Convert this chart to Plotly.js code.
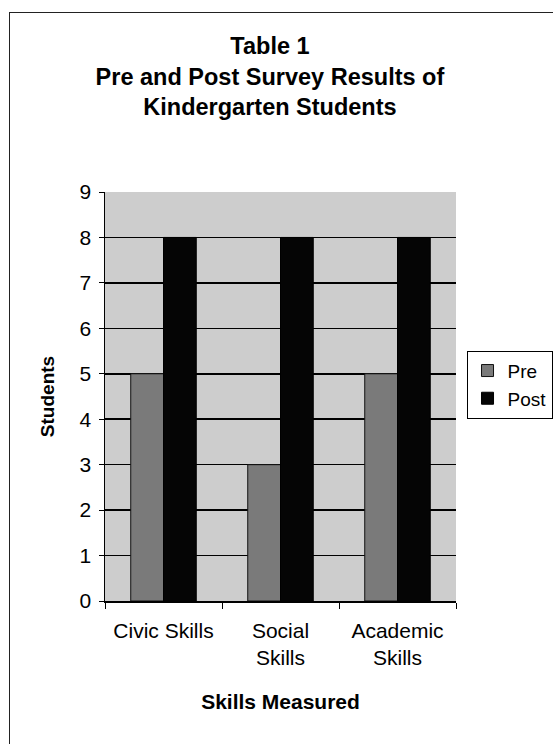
<!DOCTYPE html>
<html>
<head>
<meta charset="utf-8">
<script src="https://cdn.plot.ly/plotly-3.0.1.min.js"></script>
<style>
  html, body { margin: 0; padding: 0; background: #ffffff; }
  #chart { width: 553px; height: 744px; }
  #frame { position: absolute; left: 9px; top: 12px; width: 560px; height: 760px;
           border-left: 1.5px solid #222; border-top: 1.5px solid #222; pointer-events: none; }
</style>
</head>
<body>
<div id="chart"></div>
<div id="frame"></div>
<script>
const categories = ['Civic Skills', 'Social<br>Skills', 'Academic<br>Skills'];
const seriesNames = ['Pre', 'Post'];
const preValues = [5, 3, 5];
const postValues = [8, 8, 8];
const yTicks = [0, 1, 2, 3, 4, 5, 6, 7, 8, 9];

const font = 'Liberation Sans, Arial, sans-serif';

const traces = [
  {
    type: 'bar', name: seriesNames[0], x: categories, y: preValues,
    legendgroup: 'a',
    marker: { color: '#7a7a7a', line: { color: '#111', width: 1 } },
    hoverinfo: 'skip'
  },
  {
    type: 'bar', name: seriesNames[1], x: categories, y: postValues,
    legendgroup: 'b',
    marker: { color: '#050505', line: { color: '#000', width: 1 } },
    hoverinfo: 'skip'
  }
];

const layout = {
  width: 553, height: 744,
  autosize: false,
  margin: { l: 105, r: 97, t: 192, b: 143, autoexpand: false },
  paper_bgcolor: '#ffffff',
  plot_bgcolor: '#cdcdcd',
  font: { family: font, color: '#000' },
  title: {
    text: '<b>Table 1</b><br><b>Pre and Post Survey Results of</b><br><b>Kindergarten Students</b>',
    font: { family: font, size: 23.5, color: '#000' },
    x: 0.47, xanchor: 'center', xref: 'paper',
    y: 1 - 54 / 744, yanchor: 'top', yref: 'container'
  },
  barmode: 'group',
  bargap: 0.44,
  bargroupgap: 0,
  showlegend: true,
  legend: {
    x: 1.03, xanchor: 'left', y: 0.612, yanchor: 'top',
    bordercolor: '#000', borderwidth: 1, bgcolor: '#fff',
    font: { family: font, size: 19, color: '#000' },
    tracegroupgap: 26, traceorder: 'normal', itemwidth: 30
  },
  xaxis: {
    type: 'category',
    showline: true, linecolor: '#000', linewidth: 1.5,
    ticks: 'outside', tickson: 'boundaries', ticklen: 6, tickcolor: '#000', tickwidth: 1,
    tickfont: { family: font, size: 21, color: '#000' },
    ticklabelstandoff: 10,
    showgrid: false,
    title: { text: '<b>Skills Measured</b>', font: { family: font, size: 21, color: '#000' }, standoff: 26 },
    fixedrange: true
  },
  yaxis: {
    range: [0, 9], tickvals: yTicks, ticktext: yTicks.map(String),
    showline: true, linecolor: '#000', linewidth: 1.5,
    ticks: 'outside', ticklen: 5, tickcolor: '#000', tickwidth: 1,
    tickfont: { family: font, size: 21, color: '#000' },
    ticklabelstandoff: 3,
    showgrid: true, gridcolor: '#000', gridwidth: 1.5,
    zeroline: false,
    title: { text: '<b>Students</b>', font: { family: font, size: 19, color: '#000' }, standoff: 20 },
    fixedrange: true
  }
};

Plotly.newPlot('chart', traces, layout, { displayModeBar: false, staticPlot: true });
</script>
</body>
</html>
